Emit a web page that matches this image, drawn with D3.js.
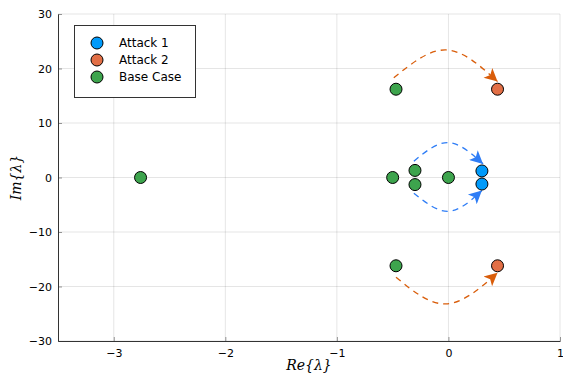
<!DOCTYPE html>
<head>
    <meta charset="utf-8">
    <style>
        body { margin: 0; background: #fff; }
        text { font-family: "DejaVu Sans", sans-serif; }
        .grid line { stroke: #000; stroke-opacity: 0.1; stroke-width: 1; }
        .tick text { font-size: 11px; fill: #000; }
        .lbl { font-family: "DejaVu Serif", serif; font-style: italic; font-size: 14px; }
    </style>
</head>
<body>
<svg width="563" height="375"></svg>
<script src="https://d3js.org/d3.v7.min.js"></script>
<script>
// eigenvalues: [re, im]
var baseCase = [[-2.76, 0], [-0.5, 0], [-0.3, 1.3], [-0.3, -1.3], [0, 0], [-0.47, 16.2], [-0.47, -16.2]];
var attack1 = [[0.3, 1.2], [0.3, -1.2]];
var attack2 = [[0.44, 16.2], [0.44, -16.2]];

var seriesNames = ["Attack 1", "Attack 2", "Base Case"];
var seriesColors = ["#009afa", "#e26f46", "#3da44d"];

// arrows: start, apex, tip (data coords)
var arrowsOrange = [
    [[-0.49, 18.3], [-0.02, 23.4], [0.44, 17.6]],
    [[-0.47, -18.3], [-0.02, -23.2], [0.44, -17.5]]
];
var arrowsBlue = [
    [[-0.31, 3.0], [0, 6.4], [0.31, 2.5]],
    [[-0.31, -2.9], [0, -6.2], [0.3, -2.4]]
];

var xTicks = [-3, -2, -1, 0, 1];
var yTicks = [-30, -20, -10, 0, 10, 20, 30];

var svg = d3.select("svg");
var x = d3.scaleLinear().domain([-3.5, 1]).range([58, 560]);
var y = d3.scaleLinear().domain([-30, 30]).range([341, 14]);

var grid = svg.append("g").attr("class", "grid");
grid.selectAll(".gx").data(xTicks).enter().append("line")
    .attr("x1", d => x(d)).attr("x2", d => x(d)).attr("y1", y(-30)).attr("y2", y(30));
grid.selectAll(".gy").data(yTicks).enter().append("line")
    .attr("y1", d => y(d)).attr("y2", d => y(d)).attr("x1", x(-3.5)).attr("x2", x(1));

function fmt(d) { return d < 0 ? "\u2212" + Math.abs(d) : d; }

var xAxis = svg.append("g").attr("transform", "translate(0," + y(-30) + ")")
    .call(d3.axisBottom(x).tickValues(xTicks).tickFormat(fmt).tickSizeInner(-4).tickSizeOuter(0).tickPadding(8));
var yAxis = svg.append("g").attr("transform", "translate(" + x(-3.5) + ",0)")
    .call(d3.axisLeft(y).tickValues(yTicks).tickFormat(fmt).tickSizeInner(-4).tickSizeOuter(0).tickPadding(6));
[xAxis, yAxis].forEach(function(a) {
    a.select(".domain").attr("stroke", "#333");
    a.selectAll(".tick line").attr("stroke", "#333").attr("stroke-opacity", 0.5);
});

svg.append("text").attr("class", "lbl").attr("x", (x(-3.5) + x(1)) / 2).attr("y", 370)
    .attr("text-anchor", "middle").text("Re{\u03bb}");
svg.append("text").attr("class", "lbl").attr("transform", "translate(21," + y(0) + ") rotate(-90)")
    .attr("text-anchor", "middle").text("Im{\u03bb}");

var defs = svg.append("defs");
function marker(id, color) {
    defs.append("marker").attr("id", id).attr("viewBox", "0 0 10 10")
        .attr("refX", 10).attr("refY", 5).attr("markerWidth", 16).attr("markerHeight", 13)
        .attr("markerUnits", "userSpaceOnUse").attr("orient", "auto")
        .append("path").attr("d", "M0,0 L10,5 L0,10 L2.5,5 Z").attr("fill", color);
}
marker("headO", "#d95d0a");
marker("headB", "#2e7df6");

var line = d3.line().x(d => x(d[0])).y(d => y(d[1])).curve(d3.curveNatural);
function drawArrows(data, color, head) {
    svg.append("g").selectAll("path").data(data).enter().append("path")
        .attr("d", line).attr("fill", "none").attr("stroke", color)
        .attr("stroke-width", 1.3).attr("stroke-dasharray", "6,5")
        .attr("marker-end", "url(#" + head + ")");
}
drawArrows(arrowsOrange, "#d95d0a", "headO");
drawArrows(arrowsBlue, "#2e7df6", "headB");

var allSeries = [attack1, attack2, baseCase];
allSeries.forEach(function(pts, i) {
    svg.append("g").selectAll("circle").data(pts).enter().append("circle")
        .attr("cx", d => x(d[0])).attr("cy", d => y(d[1])).attr("r", 6)
        .attr("fill", seriesColors[i]).attr("stroke", "#000").attr("stroke-width", 1);
});

var legend = svg.append("g");
legend.append("rect").attr("x", 74.5).attr("y", 25.5).attr("width", 121).attr("height", 72)
    .attr("fill", "#fff").attr("stroke", "#333").attr("stroke-width", 1);
var items = legend.selectAll(".it").data(seriesNames).enter().append("g")
    .attr("transform", (d, i) => "translate(0," + (43 + i * 17) + ")");
items.append("circle").attr("cx", 97).attr("cy", 0).attr("r", 6)
    .attr("fill", (d, i) => seriesColors[i]).attr("stroke", "#000");
items.append("text").attr("x", 119).attr("y", 4).attr("font-size", 12).text(d => d);
</script>
</body>
